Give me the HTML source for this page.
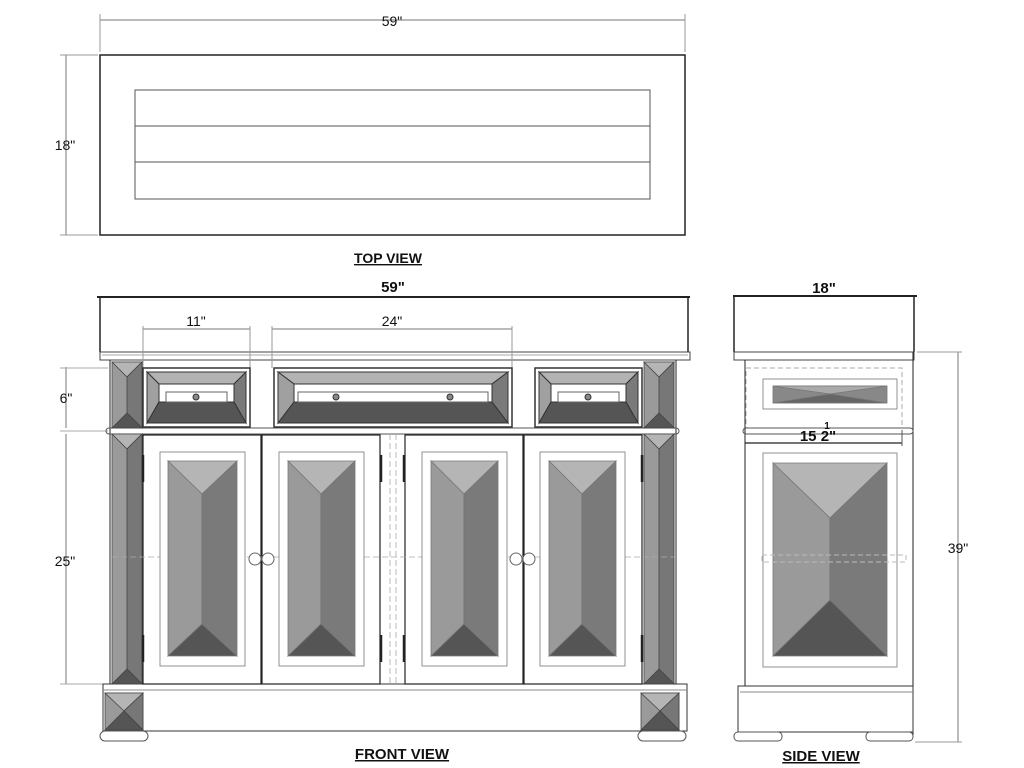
<!DOCTYPE html>
<html><head><meta charset="utf-8"><style>
html,body{margin:0;padding:0;background:#fff;width:1024px;height:768px;overflow:hidden}
svg{display:block}
text{font-family:"Liberation Sans",Arial,sans-serif;fill:#111}
.b{font-weight:bold}
</style></head><body>
<svg width="1024" height="768" viewBox="0 0 1024 768" xmlns="http://www.w3.org/2000/svg">
<g fill="none" stroke="#222" stroke-width="1">
<!-- TOP VIEW -->
<rect x="100" y="55" width="585" height="180" stroke-width="1.5"/>
<rect x="135" y="90" width="515" height="109" stroke="#555"/>
<line x1="135" y1="126" x2="650" y2="126" stroke="#555"/>
<line x1="135" y1="162" x2="650" y2="162" stroke="#555"/>
<line x1="100" y1="20" x2="685" y2="20" stroke="#777"/>
<line x1="100" y1="14" x2="100" y2="52" stroke="#999"/>
<line x1="685" y1="14" x2="685" y2="52" stroke="#999"/>
<line x1="66" y1="55" x2="66" y2="235" stroke="#777"/>
<line x1="60" y1="55" x2="98" y2="55" stroke="#999"/>
<line x1="60" y1="235" x2="98" y2="235" stroke="#999"/>
<!-- FRONT VIEW top slab -->
<line x1="97" y1="297" x2="690" y2="297" stroke-width="2"/>
<line x1="100" y1="297" x2="100" y2="352" stroke-width="1.5"/>
<line x1="688" y1="297" x2="688" y2="352" stroke-width="1.5"/>
<rect x="100" y="352" width="590" height="8" stroke="#444"/>
<line x1="102" y1="355" x2="688" y2="355" stroke="#aaa"/>
<!-- 11 and 24 dims -->
<line x1="143" y1="329" x2="250" y2="329" stroke="#777"/>
<line x1="143" y1="326" x2="143" y2="368" stroke="#999"/>
<line x1="250" y1="326" x2="250" y2="368" stroke="#999"/>
<line x1="272" y1="329" x2="512" y2="329" stroke="#777"/>
<line x1="272" y1="326" x2="272" y2="368" stroke="#999"/>
<line x1="512" y1="326" x2="512" y2="368" stroke="#999"/>
<!-- left dims -->
<line x1="66" y1="367" x2="66" y2="428" stroke="#777"/>
<line x1="66" y1="434" x2="66" y2="684" stroke="#777"/>
<line x1="60" y1="368" x2="108" y2="368" stroke="#aaa"/>
<line x1="60" y1="431" x2="108" y2="431" stroke="#aaa"/>
<line x1="60" y1="684" x2="108" y2="684" stroke="#aaa"/>
<!-- carcass -->
<line x1="110" y1="360" x2="110" y2="684"/>
<line x1="676" y1="360" x2="676" y2="684"/>
<rect x="106" y="428" width="573" height="6" rx="3" stroke="#555"/>
<rect x="103" y="684" width="584" height="47" stroke="#333"/>
<line x1="103" y1="690" x2="687" y2="690" stroke="#888"/>
<rect x="100" y="731" width="48" height="10" rx="5" stroke="#555"/>
<rect x="638" y="731" width="48" height="10" rx="5" stroke="#555"/>
</g>

<!-- pilasters -->
<g stroke="#444" stroke-width="0.8">
<rect x="112" y="362" width="30" height="66" fill="#9a9a9a"/>
<polygon points="112,362 142,362 127,377" fill="#b5b5b5"/>
<polygon points="127,377 142,362 142,428 127,413" fill="#777"/>
<polygon points="112,428 142,428 127,413" fill="#555"/>
<rect x="112" y="434" width="30" height="250" fill="#9a9a9a"/>
<polygon points="112,434 142,434 127,449" fill="#b5b5b5"/>
<polygon points="127,449 142,434 142,684 127,669" fill="#777"/>
<polygon points="112,684 142,684 127,669" fill="#555"/>
<rect x="644" y="362" width="30" height="66" fill="#9a9a9a"/>
<polygon points="644,362 674,362 659,377" fill="#b5b5b5"/>
<polygon points="659,377 674,362 674,428 659,413" fill="#777"/>
<polygon points="644,428 674,428 659,413" fill="#555"/>
<rect x="644" y="434" width="30" height="250" fill="#9a9a9a"/>
<polygon points="644,434 674,434 659,449" fill="#b5b5b5"/>
<polygon points="659,449 674,434 674,684 659,669" fill="#777"/>
<polygon points="644,684 674,684 659,669" fill="#555"/>
<!-- corner blocks -->
<rect x="105" y="693" width="38" height="37" fill="#9a9a9a"/>
<polygon points="105,693 143,693 124,711" fill="#b5b5b5"/>
<polygon points="143,693 143,730 124,711" fill="#777"/>
<polygon points="105,730 143,730 124,711" fill="#555"/>
<rect x="641" y="693" width="38" height="37" fill="#9a9a9a"/>
<polygon points="641,693 679,693 660,711" fill="#b5b5b5"/>
<polygon points="679,693 679,730 660,711" fill="#777"/>
<polygon points="641,730 679,730 660,711" fill="#555"/>
</g>

<!-- drawers -->
<g stroke="#333" stroke-width="1">
<rect x="143" y="368" width="107" height="59" fill="#fff" stroke-width="1.5"/>
<polygon points="147,372 246,372 234,384 159,384" fill="#b3b3b3"/>
<polygon points="147,372 159,384 159,402 147,423" fill="#a0a0a0"/>
<polygon points="246,372 234,384 234,402 246,423" fill="#7a7a7a"/>
<polygon points="147,423 159,402 234,402 246,423" fill="#555"/>
<rect x="166" y="392" width="61" height="10" fill="#fff" stroke="#666"/>
<circle cx="196" cy="397" r="3" fill="#888"/>
<rect x="274" y="368" width="238" height="59" fill="#fff" stroke-width="1.5"/>
<polygon points="278,372 508,372 492,384 294,384" fill="#b3b3b3"/>
<polygon points="278,372 294,384 294,402 278,423" fill="#a0a0a0"/>
<polygon points="508,372 492,384 492,402 508,423" fill="#7a7a7a"/>
<polygon points="278,423 294,402 492,402 508,423" fill="#555"/>
<rect x="298" y="392" width="190" height="10" fill="#fff" stroke="#666"/>
<circle cx="336" cy="397" r="3" fill="#888"/>
<circle cx="450" cy="397" r="3" fill="#888"/>
<rect x="535" y="368" width="107" height="59" fill="#fff" stroke-width="1.5"/>
<polygon points="539,372 638,372 626,384 551,384" fill="#b3b3b3"/>
<polygon points="539,372 551,384 551,402 539,423" fill="#a0a0a0"/>
<polygon points="638,372 626,384 626,402 638,423" fill="#7a7a7a"/>
<polygon points="539,423 551,402 626,402 638,423" fill="#555"/>
<rect x="558" y="392" width="61" height="10" fill="#fff" stroke="#666"/>
<circle cx="588" cy="397" r="3" fill="#888"/>
</g>

<!-- doors -->
<g stroke="#222" stroke-width="1.2" fill="#fff">
<rect x="143" y="435" width="118" height="249"/>
<rect x="262" y="435" width="118" height="249"/>
<rect x="405" y="435" width="118" height="249"/>
<rect x="524" y="435" width="118" height="249"/>
</g>
<g stroke="#aaa" stroke-width="0.8" stroke-dasharray="6,3" fill="none">
<line x1="112" y1="557" x2="676" y2="557"/>
<line x1="390" y1="434" x2="390" y2="684"/>
<line x1="396" y1="434" x2="396" y2="684"/>
</g>
<g stroke="#222" stroke-width="2.5">
<line x1="381" y1="455" x2="381" y2="482"/><line x1="404" y1="455" x2="404" y2="482"/>
<line x1="381" y1="635" x2="381" y2="662"/><line x1="404" y1="635" x2="404" y2="662"/>
<line x1="143" y1="455" x2="143" y2="482"/><line x1="143" y1="635" x2="143" y2="662"/>
<line x1="642" y1="455" x2="642" y2="482"/><line x1="642" y1="635" x2="642" y2="662"/>
</g>
<g stroke="#666" fill="#fff" stroke-width="1">
<circle cx="255" cy="559" r="6"/><circle cx="268" cy="559" r="6"/>
<circle cx="516" cy="559" r="6"/><circle cx="529" cy="559" r="6"/>
</g>
<!-- door panels -->
<g stroke="#777" stroke-width="0.8">
<rect x="160" y="452" width="85" height="214" fill="#fff"/>
<polygon points="168,461 237,461 202,494" fill="#b5b5b5"/>
<polygon points="168,461 202,494 202,624 168,656" fill="#9a9a9a"/>
<polygon points="237,461 202,494 202,624 237,656" fill="#7a7a7a"/>
<polygon points="168,656 237,656 202,624" fill="#555"/>
<rect x="279" y="452" width="85" height="214" fill="#fff"/>
<polygon points="288,461 355,461 321,494" fill="#b5b5b5"/>
<polygon points="288,461 321,494 321,624 288,656" fill="#9a9a9a"/>
<polygon points="355,461 321,494 321,624 355,656" fill="#7a7a7a"/>
<polygon points="288,656 355,656 321,624" fill="#555"/>
<rect x="422" y="452" width="85" height="214" fill="#fff"/>
<polygon points="431,461 498,461 464,494" fill="#b5b5b5"/>
<polygon points="431,461 464,494 464,624 431,656" fill="#9a9a9a"/>
<polygon points="498,461 464,494 464,624 498,656" fill="#7a7a7a"/>
<polygon points="431,656 498,656 464,624" fill="#555"/>
<rect x="540" y="452" width="85" height="214" fill="#fff"/>
<polygon points="549,461 616,461 582,494" fill="#b5b5b5"/>
<polygon points="549,461 582,494 582,624 549,656" fill="#9a9a9a"/>
<polygon points="616,461 582,494 582,624 616,656" fill="#7a7a7a"/>
<polygon points="549,656 616,656 582,624" fill="#555"/>
</g>

<!-- SIDE VIEW -->
<g fill="none" stroke="#222" stroke-width="1">
<line x1="733" y1="296" x2="917" y2="296" stroke-width="2"/>
<line x1="734" y1="296" x2="734" y2="352" stroke-width="1.5"/>
<line x1="914" y1="296" x2="914" y2="352" stroke-width="1.5"/>
<rect x="734" y="352" width="180" height="8" stroke="#444"/>
<line x1="745" y1="360" x2="745" y2="686"/>
<line x1="913" y1="352" x2="913" y2="735"/>
<rect x="746" y="368" width="156" height="60" stroke="#aaa" stroke-dasharray="5,3"/>
<rect x="743" y="428" width="170" height="6" rx="3" stroke="#555"/>
<line x1="745" y1="443" x2="902" y2="443" stroke-width="1.3"/>
<line x1="902" y1="430" x2="902" y2="446" stroke="#555"/>
<rect x="738" y="686" width="175" height="46" stroke="#333"/>
<line x1="740" y1="692" x2="913" y2="692" stroke="#888"/>
<rect x="734" y="732" width="48" height="9" rx="4" stroke="#555"/>
<rect x="866" y="732" width="47" height="9" rx="4" stroke="#555"/>
<line x1="958" y1="352" x2="958" y2="742" stroke="#777"/>
<line x1="917" y1="352" x2="962" y2="352" stroke="#999"/>
<line x1="915" y1="742" x2="962" y2="742" stroke="#999"/>
</g>
<g stroke="#777" stroke-width="0.8">
<rect x="763" y="379" width="134" height="30" fill="#fff"/>
<polygon points="773,386 887,386 887,403 773,403" fill="#888"/>
<polygon points="773,386 887,386 830,394" fill="#aaa"/>
<polygon points="773,403 887,403 830,394" fill="#666"/>
<rect x="763" y="453" width="134" height="214" fill="#fff"/>
<polygon points="773,463 887,463 830,518" fill="#b5b5b5"/>
<polygon points="773,463 830,518 830,600 773,656" fill="#9a9a9a"/>
<polygon points="887,463 830,518 830,600 887,656" fill="#7a7a7a"/>
<polygon points="773,656 887,656 830,600" fill="#555"/>
</g>
<rect x="762" y="555" width="144" height="7" fill="none" stroke="#bbb" stroke-dasharray="5,3"/>

<!-- labels -->
<text x="392" y="26" font-size="14" text-anchor="middle">59"</text>
<text x="65" y="150" font-size="14" text-anchor="middle">18"</text>
<text x="388" y="263" font-size="14" class="b" text-anchor="middle" text-decoration="underline">TOP VIEW</text>
<text x="393" y="292" font-size="15" class="b" text-anchor="middle">59"</text>
<text x="196" y="326" font-size="14" text-anchor="middle">11"</text>
<text x="392" y="326" font-size="14" text-anchor="middle">24"</text>
<text x="66" y="403" font-size="14" text-anchor="middle">6"</text>
<text x="65" y="566" font-size="14" text-anchor="middle">25"</text>
<text x="402" y="759" font-size="15" class="b" text-anchor="middle" text-decoration="underline">FRONT VIEW</text>
<text x="824" y="293" font-size="15" class="b" text-anchor="middle">18"</text>
<text x="818" y="441" font-size="15" class="b" text-anchor="middle">15 2"</text>
<text x="827" y="429" font-size="10" class="b" text-anchor="middle">1</text>
<text x="958" y="553" font-size="14" text-anchor="middle">39"</text>
<text x="821" y="761" font-size="15" class="b" text-anchor="middle" text-decoration="underline">SIDE VIEW</text>
</svg>
</body></html>
